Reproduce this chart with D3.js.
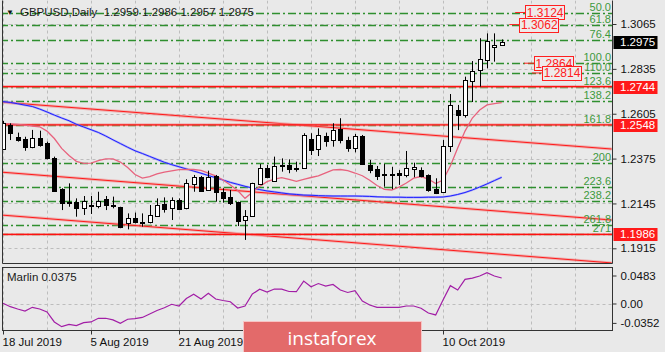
<!DOCTYPE html>
<html>
<head>
<meta charset="utf-8">
<script src="https://cdn.jsdelivr.net/npm/d3@7"></script>
<style>
  body { margin: 0; background: #e9e9e9; }
  svg { display: block; font-family: "Liberation Sans", Arial, sans-serif; }
</style>
</head>
<body>
<div id="chart"></div>
<script>
// GBPUSD daily bars, 18 Jul 2019 .. 22 Oct 2019
const opens = [1.2423,1.2547,1.2487,1.2474,1.2433,1.2479,1.2453,1.2376,1.2218,1.2151,1.2154,1.2125,1.2137,1.2133,1.2166,1.2137,1.2128,1.2043,1.2072,1.2051,1.2051,1.2081,1.2141,1.2120,1.2163,1.2120,1.2245,1.2282,1.2214,1.2286,1.2205,1.2180,1.2154,1.2060,1.2077,1.2248,1.2328,1.2262,1.2342,1.2342,1.2328,1.2325,1.2474,1.2423,1.2491,1.2470,1.2525,1.2470,1.2428,1.2491,1.2342,1.2320,1.2294,1.2296,1.2300,1.2294,1.2322,1.2316,1.2291,1.2218,1.2205,1.2440,1.2624,1.2598,1.2774,1.2826,1.2884,1.2946,1.2959]
const highs = [1.2568,1.2556,1.2508,1.2487,1.2522,1.2518,1.2462,1.2385,1.2223,1.2248,1.2171,1.2183,1.2183,1.2205,1.2183,1.2180,1.2128,1.2094,1.2098,1.2094,1.2137,1.2171,1.2176,1.2176,1.2171,1.2269,1.2291,1.2286,1.2313,1.2291,1.2223,1.2214,1.2154,1.2111,1.2251,1.2347,1.2342,1.2385,1.2376,1.2371,1.2359,1.2505,1.2505,1.2530,1.2508,1.2556,1.2582,1.2487,1.2501,1.2496,1.2368,1.2337,1.2347,1.2333,1.2316,1.2414,1.2354,1.2330,1.2294,1.2274,1.2470,1.2706,1.2650,1.2795,1.2875,1.2992,1.3017,1.3017,1.2986]
const lows = [1.2419,1.2470,1.2462,1.2415,1.2428,1.2436,1.2371,1.2205,1.2111,1.2128,1.2077,1.2086,1.2091,1.2120,1.2111,1.2120,1.2018,1.2012,1.2043,1.2026,1.2043,1.2077,1.2098,1.2060,1.2111,1.2115,1.2205,1.2205,1.2214,1.2154,1.2149,1.2137,1.2029,1.1958,1.2077,1.2240,1.2274,1.2256,1.2308,1.2300,1.2308,1.2322,1.2393,1.2388,1.2436,1.2436,1.2453,1.2410,1.2407,1.2342,1.2300,1.2265,1.2231,1.2218,1.2240,1.2279,1.2279,1.2279,1.2205,1.2193,1.2200,1.2409,1.2521,1.2585,1.2665,1.2744,1.2838,1.2872,1.2957]
const closes = [1.2556,1.2505,1.2474,1.2433,1.2479,1.2445,1.2376,1.2209,1.2146,1.2147,1.2125,1.2159,1.2135,1.2158,1.2137,1.2132,1.2023,1.2069,1.2051,1.2048,1.2086,1.2137,1.2117,1.2163,1.2117,1.2248,1.2279,1.2209,1.2279,1.2205,1.2174,1.2151,1.2055,1.2081,1.2248,1.2328,1.2282,1.2339,1.2341,1.2320,1.2323,1.2496,1.2419,1.2496,1.2467,1.2522,1.2470,1.2428,1.2491,1.2346,1.2316,1.2282,1.2287,1.2291,1.2291,1.2328,1.2333,1.2286,1.2214,1.2197,1.2440,1.2650,1.2598,1.2778,1.2826,1.2884,1.2979,1.2958,1.2975]

// moving averages
const fastMA = [1.2556,1.2553,1.2550,1.2546,1.2542,1.2538,1.2516,1.2478,1.2427,1.2391,1.2361,1.2350,1.2352,1.2365,1.2373,1.2373,1.2357,1.2329,1.2293,1.2275,1.2283,1.2296,1.2305,1.2312,1.2318,1.2320,1.2319,1.2315,1.2300,1.2286,1.2265,1.2240,1.2211,1.2171,1.2202,1.2232,1.2257,1.2270,1.2277,1.2268,1.2258,1.2269,1.2278,1.2286,1.2302,1.2317,1.2319,1.2313,1.2301,1.2287,1.2264,1.2237,1.2217,1.2214,1.2229,1.2250,1.2275,1.2283,1.2270,1.2247,1.2265,1.2337,1.2429,1.2516,1.2583,1.2624,1.2650,1.2657,1.2662]
const slowMA = [1.2667,1.2663,1.2656,1.2649,1.2642,1.2629,1.2614,1.2598,1.2583,1.2569,1.2551,1.2537,1.2523,1.2509,1.2491,1.2471,1.2452,1.2433,1.2415,1.2401,1.2386,1.2371,1.2356,1.2344,1.2333,1.2322,1.2311,1.2300,1.2288,1.2277,1.2265,1.2253,1.2243,1.2233,1.2224,1.2216,1.2209,1.2204,1.2199,1.2194,1.2191,1.2188,1.2187,1.2185,1.2184,1.2183,1.2183,1.2183,1.2183,1.2182,1.2181,1.2179,1.2178,1.2177,1.2177,1.2176,1.2176,1.2176,1.2177,1.2177,1.2178,1.2183,1.2191,1.2201,1.2214,1.2229,1.2245,1.2262,1.2279]

// Marlin oscillator
const marlin = [0.0010,-0.0039,-0.0072,-0.0101,-0.0048,-0.0072,-0.0115,-0.0259,-0.0327,-0.0295,-0.0312,-0.0269,-0.0259,-0.0206,-0.0206,-0.0230,-0.0278,-0.0220,-0.0212,-0.0194,-0.0144,-0.0094,-0.0055,-0.0004,-0.0029,0.0079,0.0140,0.0072,0.0154,0.0072,0.0050,0.0032,-0.0058,-0.0029,0.0144,0.0212,0.0173,0.0216,0.0213,0.0180,0.0177,0.0331,0.0249,0.0295,0.0259,0.0281,0.0202,0.0166,0.0192,0.0043,-0.0014,-0.0048,-0.0048,-0.0048,-0.0048,-0.0029,-0.0029,-0.0062,-0.0130,-0.0158,0.0058,0.0264,0.0202,0.0356,0.0374,0.0403,0.0451,0.0403,0.0375]

// axes
const priceTicks = [1.3065, 1.2835, 1.2605, 1.2375, 1.2145, 1.1915]
const marlinTicks = [0.0483, 0.00, -0.0352]
const marlinTickLabels = ["0.0483", "0.00", "-0.0352"]
const timeTickBars = [0, 12, 24, 60]
const timeTickLabels = ["18 Jul 2019", "5 Aug 2019", "21 Aug 2019", "10 Oct 2019"]
const gridBars = [0, 6, 12, 18, 24, 30, 36, 42, 48, 54, 60, 66, 72, 78]

// Fibonacci expansion
const fibLevels = [50, 61.8, 76.4, 100, 110, 123.6, 138.2, 161.8, 200, 223.6, 238.2, 261.8, 271]
const fibLabels = ["50.0", "61.8", "76.4", "100.0", "110.0", "123.6", "138.2", "161.8", "200", "223.6", "238.2", "261.8", "271"]
const fibZero = 1.3377
const fibHundred = 1.2864

// analyst objects
const levelPrices = [1.2744, 1.2548, 1.1986]
const trendBars = [-0.4, 83]
const trendStart = [1.2665, 1.2306, 1.2086]
const trendEnd = [1.2424, 1.2060, 1.1840]
const notePrices = [1.3124, 1.3062, 1.2864, 1.2814]
const noteBars = [71.2, 70.4, 72.4, 73.5]
const lastPrice = 1.2975
const titleText = "GBPUSD,Daily  1.2959 1.2986 1.2957 1.2975"

const W = 665, H = 352
const panelLeft = 2.5, panelRight = 612.5
const mainTop = 0.5, mainBottom = 263.5
const subTop = 267.5, subBottom = 330.5

const svg = d3.select("#chart").append("svg")
    .attr("width", W)
    .attr("height", H)

svg.append("rect").attr("width", W).attr("height", H).attr("fill", "#e9e9e9")

const defs = svg.append("defs")
defs.append("clipPath").attr("id", "clipMain").append("rect")
    .attr("x", panelLeft).attr("y", mainTop)
    .attr("width", panelRight - panelLeft).attr("height", mainBottom - mainTop)
defs.append("clipPath").attr("id", "clipSub").append("rect")
    .attr("x", panelLeft).attr("y", subTop)
    .attr("width", panelRight - panelLeft).attr("height", subBottom - subTop)

const xScale = d3.scaleLinear().domain([0, 83]).range([3, 611.7])
const yScale = d3.scaleLinear().domain([1.1915, 1.3065]).range([248.3, 24])
const mScale = d3.scaleLinear().domain([-0.0352, 0.0483]).range([328.4, 270.5])

const px = v => Math.round(v) + 0.5

// ---------- main panel ----------
const main = svg.append("g").attr("clip-path", "url(#clipMain)")

// grid
main.selectAll(".vgrid").data(gridBars).join("line")
    .attr("x1", d => px(xScale(d))).attr("x2", d => px(xScale(d)))
    .attr("y1", mainTop).attr("y2", mainBottom)
    .attr("stroke", "#bdbdbd").attr("stroke-dasharray", "3,3")
main.selectAll(".hgrid").data(priceTicks).join("line")
    .attr("x1", panelLeft).attr("x2", panelRight)
    .attr("y1", d => px(yScale(d))).attr("y2", d => px(yScale(d)))
    .attr("stroke", "#bdbdbd").attr("stroke-dasharray", "3,3")

// fibonacci lines
const fibPrice = l => fibZero + (fibHundred - fibZero) * l / 100
main.selectAll(".fib").data(fibLevels).join("line")
    .attr("x1", 0).attr("x2", panelRight)
    .attr("y1", d => px(yScale(fibPrice(d)))).attr("y2", d => px(yScale(fibPrice(d))))
    .attr("stroke", "#2f8f2f").attr("stroke-width", 1.3)
    .attr("stroke-dasharray", "8,3,2,3")

// trend lines
trendStart.forEach((p, k) => {
    const seg = [[trendBars[0], p], [trendBars[1], trendEnd[k]]]
    const l = d3.line().x(d => xScale(d[0])).y(d => yScale(d[1]))
    main.append("path").attr("d", l(seg)).attr("fill", "none")
        .attr("stroke", "#f08a8a").attr("stroke-width", 3).attr("opacity", 0.55)
    main.append("path").attr("d", l(seg)).attr("fill", "none")
        .attr("stroke", "#ff1a1a").attr("stroke-width", 1)
})

// horizontal levels
main.selectAll(".lvlHalo").data(levelPrices).join("line")
    .attr("x1", panelLeft).attr("x2", panelRight)
    .attr("y1", d => yScale(d)).attr("y2", d => yScale(d))
    .attr("stroke", "#f08a8a").attr("stroke-width", 3).attr("opacity", 0.55)
main.selectAll(".lvl").data(levelPrices).join("line")
    .attr("x1", panelLeft).attr("x2", panelRight)
    .attr("y1", d => yScale(d)).attr("y2", d => yScale(d))
    .attr("stroke", "#ff1010").attr("stroke-width", 1.2)

// moving averages
const maLine = d3.line().x((d, i) => xScale(i)).y(d => yScale(d))
main.append("path").attr("d", maLine(slowMA)).attr("fill", "none")
    .attr("stroke", "#8a8aff").attr("stroke-width", 2.2).attr("opacity", 0.6)
main.append("path").attr("d", maLine(slowMA)).attr("fill", "none")
    .attr("stroke", "#1f1fff").attr("stroke-width", 1)
main.append("path").attr("d", maLine(fastMA)).attr("fill", "none")
    .attr("stroke", "#e8637e").attr("stroke-width", 1.3)

// candles
const bars = d3.range(opens.length)
main.selectAll(".wick").data(bars).join("line")
    .attr("x1", i => px(xScale(i))).attr("x2", i => px(xScale(i)))
    .attr("y1", i => yScale(highs[i])).attr("y2", i => yScale(lows[i]))
    .attr("stroke", "#000")
main.selectAll(".body").data(bars).join("rect")
    .attr("x", i => Math.round(xScale(i)) - 2 + 0.5)
    .attr("width", 4)
    .attr("y", i => Math.round(yScale(Math.max(opens[i], closes[i]))) + 0.5)
    .attr("height", i => Math.max(1, Math.round(Math.abs(yScale(opens[i]) - yScale(closes[i])))))
    .attr("fill", i => closes[i] >= opens[i] ? "#fff" : "#000")
    .attr("stroke", "#000")

// fib labels
svg.selectAll(".fibLabel").data(fibLevels).join("text")
    .attr("x", 611).attr("y", d => yScale(fibPrice(d)) - 2)
    .attr("text-anchor", "end").attr("font-size", 11)
    .attr("fill", "#3d993d")
    .text((d, i) => fibLabels[i])

// price notes (boxed labels)
notePrices.forEach((p, k) => {
    const cx = xScale(noteBars[k]), cy = yScale(p)
    const g = svg.append("g")
    g.append("line").attr("x1", cx - 10).attr("x2", cx).attr("y1", cy).attr("y2", cy)
        .attr("stroke", "#ff2020")
    g.append("rect").attr("x", px(cx)).attr("y", px(cy - 7)).attr("width", 39).attr("height", 14)
        .attr("fill", "#eeeaea").attr("stroke", "#ff2020")
    g.append("text").attr("x", cx + 20).attr("y", cy + 4.5)
        .attr("text-anchor", "middle").attr("font-size", 12).attr("fill", "#ff2020")
        .text(p.toFixed(4))
})

// panel frame
svg.append("path")
    .attr("d", `M${panelLeft},${mainTop}V${mainBottom}H${panelRight}V${mainTop}`)
    .attr("fill", "none").attr("stroke", "#333")

// price axis
svg.append("g")
    .attr("transform", `translate(${panelRight},0)`)
    .call(d3.axisRight(yScale).tickValues(priceTicks).tickSize(4).tickPadding(4).tickFormat(d3.format(".4f")))
    .call(g => g.select(".domain").remove())
    .call(g => g.selectAll("text").attr("font-size", 11.5).attr("fill", "#111").attr("font-family", "Liberation Sans, Arial"))
    .call(g => g.selectAll("line").attr("stroke", "#333"))

// highlighted price tags
const tags = levelPrices.map(p => ({p, fill: "#ff1a1a"})).concat([{p: lastPrice, fill: "#000"}])
tags.forEach(t => {
    const cy = yScale(t.p)
    svg.append("rect").attr("x", 613.5).attr("y", Math.round(cy) - 6).attr("width", 44).attr("height", 13)
        .attr("fill", t.fill)
    svg.append("text").attr("x", 620).attr("y", cy + 4)
        .attr("font-size", 11.5).attr("fill", "#fff").text(t.p.toFixed(4))
})

// title
svg.append("text").attr("x", 6).attr("y", 15).attr("font-size", 8).attr("fill", "#111").text("▼")
svg.append("text").attr("x", 20).attr("y", 16).attr("font-size", 11.5).attr("fill", "#1a1a1a")
    .attr("xml:space", "preserve")
    .text(titleText)

// ---------- Marlin panel ----------
const sub = svg.append("g").attr("clip-path", "url(#clipSub)")
sub.selectAll(".vgrid").data(gridBars).join("line")
    .attr("x1", d => px(xScale(d))).attr("x2", d => px(xScale(d)))
    .attr("y1", subTop).attr("y2", subBottom)
    .attr("stroke", "#bdbdbd").attr("stroke-dasharray", "3,3")
sub.append("line")
    .attr("x1", panelLeft).attr("x2", panelRight)
    .attr("y1", px(mScale(0))).attr("y2", px(mScale(0)))
    .attr("stroke", "#bdbdbd").attr("stroke-dasharray", "3,3")
const mLine = d3.line().x((d, i) => xScale(i)).y(d => mScale(d))
sub.append("path").attr("d", mLine(marlin)).attr("fill", "none")
    .attr("stroke", "#a21ea6").attr("stroke-width", 1.2)

svg.append("rect")
    .attr("x", panelLeft).attr("y", subTop)
    .attr("width", panelRight - panelLeft).attr("height", subBottom - subTop)
    .attr("fill", "none").attr("stroke", "#333")

svg.append("text").attr("x", 7).attr("y", 281).attr("font-size", 11.5).attr("fill", "#1a1a1a")
    .text(`Marlin ${marlin[marlin.length - 1].toFixed(4)}`)

const mOffsets = [5.5, 0, -5]
svg.append("g")
    .attr("transform", `translate(${panelRight},0)`)
    .call(d3.axisRight(mScale).tickValues(marlinTicks).tickSize(4).tickPadding(4)
        .tickFormat((d, i) => marlinTickLabels[i]))
    .call(g => g.select(".domain").remove())
    .call(g => g.selectAll(".tick").attr("transform", (d, i) => `translate(0,${mScale(d) + mOffsets[i]})`))
    .call(g => g.selectAll("text").attr("font-size", 11.5).attr("fill", "#111").attr("font-family", "Liberation Sans, Arial"))
    .call(g => g.selectAll("line").attr("stroke", "#333"))

// time axis
svg.append("g")
    .attr("transform", `translate(0,${subBottom})`)
    .call(d3.axisBottom(xScale).tickValues(timeTickBars).tickSize(4).tickPadding(3)
        .tickFormat((d, i) => timeTickLabels[i]))
    .call(g => g.select(".domain").remove())
    .call(g => g.selectAll(".tick").attr("transform", d => `translate(${px(xScale(d))},0)`))
    .call(g => g.selectAll("text").attr("text-anchor", "start").attr("x", -1)
        .attr("font-size", 11.5).attr("fill", "#111").attr("font-family", "Liberation Sans, Arial"))
    .call(g => g.selectAll("line").attr("stroke", "#333"))

// watermark
const logo = svg.append("g")
logo.append("rect").attr("x", 243.5).attr("y", 321.5).attr("width", 178).attr("height", 34)
    .attr("fill", "#e36a6a").attr("stroke", "#f7c4c4")
logo.append("text").attr("x", 332).attr("y", 345)
    .attr("text-anchor", "middle").attr("font-family", "Open Sans, sans-serif")
    .attr("font-size", 19).attr("fill", "#fff").text("instaforex")
</script>
</body>
</html>
